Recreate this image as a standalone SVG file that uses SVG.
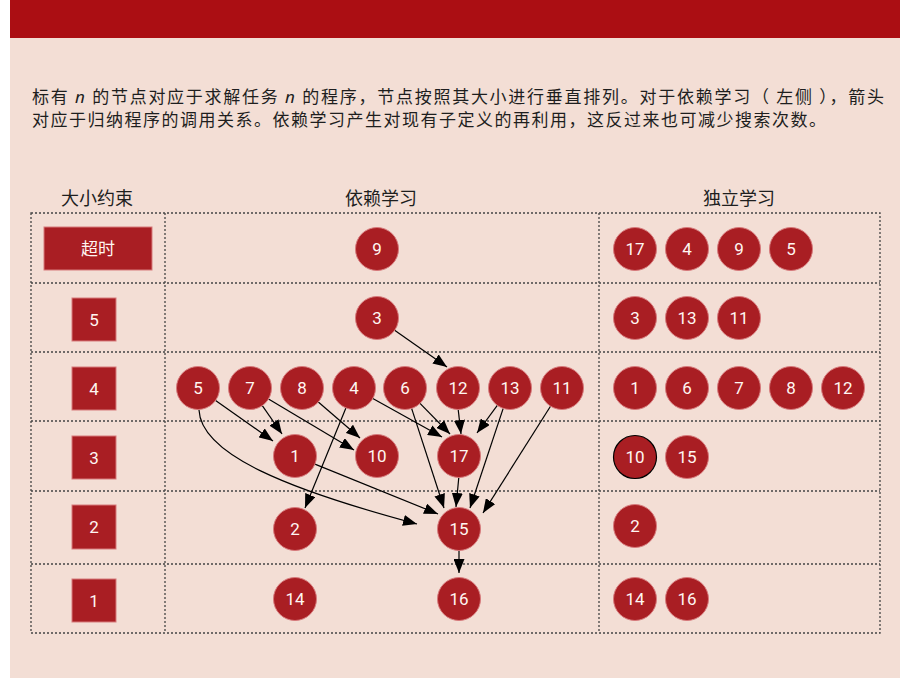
<svg xmlns="http://www.w3.org/2000/svg" width="916" height="678" viewBox="0 0 916 678">
<style>
.bg{fill:#f3ded5}
.band{fill:#ab0e13}
.grid{stroke:#444;stroke-width:1.3;stroke-dasharray:2 2;fill:none}
.body{font-family:"Noto Sans CJK SC","Noto Sans",sans-serif;font-size:17px;fill:#1e1e1e}
.hdr{font-family:"Noto Sans CJK SC","Noto Sans",sans-serif;font-size:18px;fill:#1e1e1e;text-anchor:middle}
.lab{fill:#a91e23;stroke:#d77a7c;stroke-width:1}
.n circle{fill:#a91e23;stroke:#d77a7c;stroke-width:1}
.n text,.lt{font-family:"Roboto","Open Sans","Noto Sans CJK SC",sans-serif;font-size:17px;fill:#fff6f2;text-anchor:middle;dominant-baseline:central}
.e{stroke:#000;stroke-width:1.2;fill:none;marker-end:url(#ah)}
</style>
<defs>
<marker id="ah" markerUnits="userSpaceOnUse" markerWidth="14" markerHeight="11" refX="14" refY="5.5" orient="auto">
<path d="M0,0 L14,5.5 L0,11 z" fill="#000"/>
</marker>
</defs>
<rect x="10" y="0" width="890" height="678" class="bg"/>
<rect x="10" y="0" width="890" height="38" class="band"/>
<text class="body" x="32" y="103" textLength="852" lengthAdjust="spacing">标有 <tspan font-style="italic" font-family="Noto Sans, sans-serif">n</tspan> 的节点对应于求解任务 <tspan font-style="italic" font-family="Noto Sans, sans-serif">n</tspan> 的程序，节点按照其大小进行垂直排列。对于依赖学习（ 左侧 ），箭头</text>
<text class="body" x="32" y="126" textLength="794" lengthAdjust="spacing">对应于归纳程序的调用关系。依赖学习产生对现有子定义的再利用，这反过来也可减少搜索次数。</text>
<text class="hdr" x="97" y="205">大小约束</text>
<text class="hdr" x="381" y="205">依赖学习</text>
<text class="hdr" x="739" y="205">独立学习</text>
<g id="grid">
<rect x="31" y="213" width="849" height="420" class="grid"/>
<line x1="165" y1="213" x2="165" y2="633" class="grid"/>
<line x1="599" y1="213" x2="599" y2="633" class="grid"/>
<line x1="31" y1="283" x2="880" y2="283" class="grid"/>
<line x1="31" y1="352" x2="880" y2="352" class="grid"/>
<line x1="31" y1="421" x2="880" y2="421" class="grid"/>
<line x1="31" y1="491" x2="880" y2="491" class="grid"/>
<line x1="31" y1="564" x2="880" y2="564" class="grid"/>
</g>
<g id="size-labels">
<g id="size-timeout"><rect x="44" y="227" width="108" height="43" class="lab"/><text class="lt" x="98" y="248.5" font-family="Noto Sans CJK SC, sans-serif">超时</text></g>
<g id="size-5"><rect x="72" y="298" width="44" height="43" class="lab"/><text class="lt" x="94" y="319.5">5</text></g>
<g id="size-4"><rect x="72" y="367" width="44" height="43" class="lab"/><text class="lt" x="94" y="388.5">4</text></g>
<g id="size-3"><rect x="72" y="436" width="44" height="43" class="lab"/><text class="lt" x="94" y="457.5">3</text></g>
<g id="size-2"><rect x="72" y="505" width="44" height="44" class="lab"/><text class="lt" x="94" y="527">2</text></g>
<g id="size-1"><rect x="72" y="579" width="44" height="43" class="lab"/><text class="lt" x="94" y="600.5">1</text></g>
</g>
<g id="edges">
<path class="e" d="M394.6,330.3 L447,367"/>
<path class="e" d="M215.6,400.4 L273,441"/>
<path class="e" d="M262.3,405.7 L282,434"/>
<path class="e" d="M268.5,399 L354,450"/>
<path class="e" d="M318.3,402 L360,438"/>
<path class="e" d="M345.9,407.9 L305,508"/>
<path class="e" d="M372.8,398.5 L442,437"/>
<path class="e" d="M420,403.4 L450,434"/>
<path class="e" d="M458.2,409.5 L461,434"/>
<path class="e" d="M497.3,405.3 L477,433"/>
<path class="e" d="M411.6,408.4 L444,508"/>
<path class="e" d="M503.2,408.4 L470,508"/>
<path class="e" d="M550.5,406.2 L483,513"/>
<path class="e" d="M458.8,477.5 L456,507"/>
<path class="e" d="M314.9,464.1 L438,514"/>
<path class="e" d="M199,410 C201,455 290,490 417,524"/>
<path class="e" d="M459,550.5 L459,573"/>
</g>
<g id="dependent">
<g id="d9" class="n"><circle cx="377" cy="249" r="21.5"/><text x="377" y="249">9</text></g>
<g id="d3" class="n"><circle cx="377" cy="318" r="21.5"/><text x="377" y="318">3</text></g>
<g id="d5" class="n"><circle cx="198" cy="388" r="21.5"/><text x="198" y="388">5</text></g>
<g id="d7" class="n"><circle cx="250" cy="388" r="21.5"/><text x="250" y="388">7</text></g>
<g id="d8" class="n"><circle cx="302" cy="388" r="21.5"/><text x="302" y="388">8</text></g>
<g id="d4" class="n"><circle cx="354" cy="388" r="21.5"/><text x="354" y="388">4</text></g>
<g id="d6" class="n"><circle cx="405" cy="388" r="21.5"/><text x="405" y="388">6</text></g>
<g id="d12" class="n"><circle cx="458" cy="388" r="21.5"/><text x="458" y="388">12</text></g>
<g id="d13" class="n"><circle cx="510" cy="388" r="21.5"/><text x="510" y="388">13</text></g>
<g id="d11" class="n"><circle cx="562" cy="388" r="21.5"/><text x="562" y="388">11</text></g>
<g id="d1" class="n"><circle cx="295" cy="456" r="21.5"/><text x="295" y="456">1</text></g>
<g id="d10" class="n"><circle cx="377" cy="456" r="21.5"/><text x="377" y="456">10</text></g>
<g id="d17" class="n"><circle cx="459" cy="456" r="21.5"/><text x="459" y="456">17</text></g>
<g id="d2" class="n"><circle cx="295" cy="529" r="21.5"/><text x="295" y="529">2</text></g>
<g id="d15" class="n"><circle cx="459" cy="529" r="21.5"/><text x="459" y="529">15</text></g>
<g id="d14" class="n"><circle cx="295" cy="599" r="21.5"/><text x="295" y="599">14</text></g>
<g id="d16" class="n"><circle cx="459" cy="599" r="21.5"/><text x="459" y="599">16</text></g>
</g>
<g id="independent">
<g id="i17" class="n"><circle cx="635" cy="249" r="21.5"/><text x="635" y="249">17</text></g>
<g id="i4" class="n"><circle cx="687" cy="249" r="21.5"/><text x="687" y="249">4</text></g>
<g id="i9" class="n"><circle cx="739" cy="249" r="21.5"/><text x="739" y="249">9</text></g>
<g id="i5" class="n"><circle cx="791" cy="249" r="21.5"/><text x="791" y="249">5</text></g>
<g id="i3" class="n"><circle cx="635" cy="318" r="21.5"/><text x="635" y="318">3</text></g>
<g id="i13" class="n"><circle cx="687" cy="318" r="21.5"/><text x="687" y="318">13</text></g>
<g id="i11" class="n"><circle cx="739" cy="318" r="21.5"/><text x="739" y="318">11</text></g>
<g id="i1" class="n"><circle cx="635" cy="388" r="21.5"/><text x="635" y="388">1</text></g>
<g id="i6" class="n"><circle cx="687" cy="388" r="21.5"/><text x="687" y="388">6</text></g>
<g id="i7" class="n"><circle cx="739" cy="388" r="21.5"/><text x="739" y="388">7</text></g>
<g id="i8" class="n"><circle cx="791" cy="388" r="21.5"/><text x="791" y="388">8</text></g>
<g id="i12" class="n"><circle cx="843" cy="388" r="21.5"/><text x="843" y="388">12</text></g>
<g id="i10" class="n"><circle cx="635" cy="457" r="21.5" style="stroke:#000;stroke-width:1.2"/><text x="635" y="457">10</text></g>
<g id="i15" class="n"><circle cx="687" cy="457" r="21.5"/><text x="687" y="457">15</text></g>
<g id="i2" class="n"><circle cx="635" cy="526" r="21.5"/><text x="635" y="526">2</text></g>
<g id="i14" class="n"><circle cx="635" cy="599" r="21.5"/><text x="635" y="599">14</text></g>
<g id="i16" class="n"><circle cx="687" cy="599" r="21.5"/><text x="687" y="599">16</text></g>
</g>
</svg>
